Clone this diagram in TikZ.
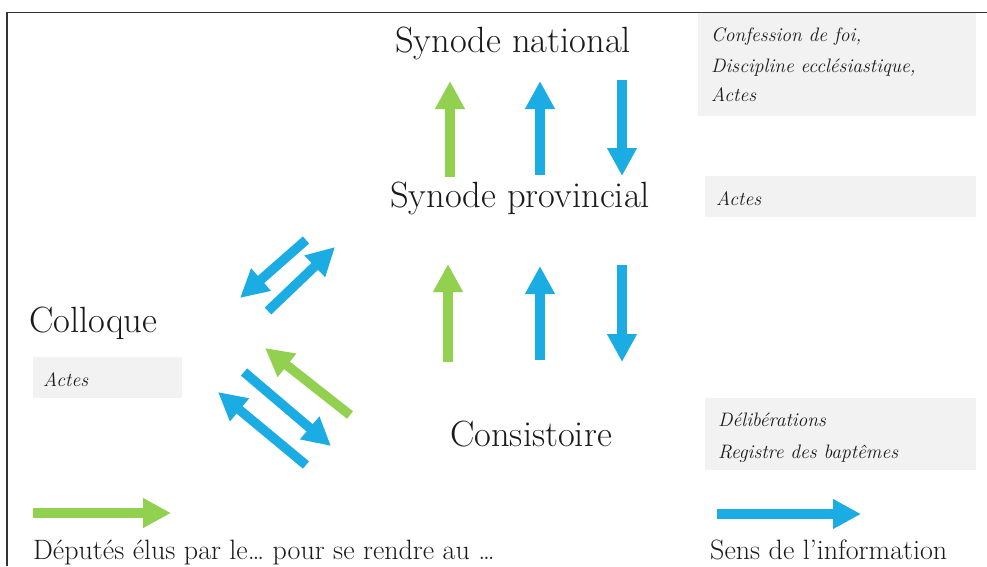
\documentclass[tikz,border=0pt]{standalone}
\usepackage{fontspec}
\usetikzlibrary{arrows.meta}
\definecolor{elugreen}{HTML}{92D050}
\definecolor{infoblue}{HTML}{1BACE4}
\definecolor{boxgray}{HTML}{F2F2F2}
\definecolor{framegray}{HTML}{333333}
\definecolor{textdark}{HTML}{1A1A1A}
\tikzset{
  level/.style={font=\fontsize{36.5}{42}\selectfont, text=textdark, inner sep=0pt},
  legendtext/.style={font=\fontsize{28}{32}\selectfont, text=textdark, inner sep=0pt, anchor=base west},
  docbox/.style={rectangle, fill=boxgray, inner sep=0pt, anchor=north west},
  doctext/.style={font=\fontsize{19.5}{30}\selectfont\itshape, text=textdark, inner sep=0pt, anchor=base west},
  flow/.style={line width=9.5pt, -{Triangle[length=28pt,width=28pt]}},
  elu/.style={flow, draw=elugreen},
  info/.style={flow, draw=infoblue}
}
\newcommand{\flowarrow}[4]{
  \coordinate (#2-tail) at (#3);
  \coordinate (#2-head) at (#4);
  \draw[#1] (#2-tail) -- (#2-head);
}

\begin{document}
\begin{tikzpicture}[x=1pt, y=-1pt]
\useasboundingbox (0,0) rectangle (987,566);
\draw[framegray, line width=1.5pt] (7,566) -- (7,12.5) -- (987,12.5);
% grey boxes with the documents
\node[docbox, minimum width=278pt, minimum height=103pt] (natbox) at (698,13) {};
\node[docbox, minimum width=271pt, minimum height=41pt] (provbox) at (705,176) {};
\node[docbox, minimum width=149pt, minimum height=41pt] (colbox) at (33,357) {};
\node[docbox, minimum width=271pt, minimum height=72pt] (consbox) at (705,398) {};
\node[doctext] (natdoc1) at (711,41.5) {Confession de foi,};
\node[doctext] (natdoc2) at (711,72.5) {Discipline ecclésiastique,};
\node[doctext] (natdoc3) at (711,101.5) {Actes};
\node[doctext] (provdoc) at (716,205) {Actes};
\node[doctext] (coldoc) at (43,386.5) {Actes};
\node[doctext] (consdoc1) at (718,426.5) {Délibérations};
\node[doctext] (consdoc2) at (718,458) {Registre des baptêmes};
% levels
\node[level, anchor=base] (national) at (513,52) {Synode national};
\node[level, anchor=base] (provincial) at (520,207) {Synode provincial};
\node[level, anchor=base west] (colloque) at (29,332) {Colloque};
\node[level, anchor=base] (consistoire) at (531,446) {Consistoire};
% arrows between provincial and national
\flowarrow{elu}{np-elu}{450,177}{450,81}
\flowarrow{info}{np-up}{540,175}{540,81}
\flowarrow{info}{np-down}{622,80}{622,176}
% arrows between consistoire and provincial
\flowarrow{elu}{cp-elu}{448,362}{448,264}
\flowarrow{info}{cp-up}{540,360}{540,266}
\flowarrow{info}{cp-down}{622,265}{622,362}
% arrows around the colloque
\flowarrow{info}{pc-down}{306,240}{240,298}
\flowarrow{info}{pc-up}{268,311}{335,247}
\flowarrow{elu}{cc-elu}{350,415}{265,348}
\flowarrow{info}{cc-down}{244,372}{331,446}
\flowarrow{info}{cc-up}{306,465}{218,392}
% legend
\flowarrow{elu}{leg-elu}{33,513}{171,513}
\flowarrow{info}{leg-info}{717,514}{861,514}
\node[legendtext] (elulegend) at (33,559.5) {Députés élus par le… pour se rendre au …};
\node[legendtext] (infolegend) at (710,559.5) {Sens de l’information};
\end{tikzpicture}
\end{document}
